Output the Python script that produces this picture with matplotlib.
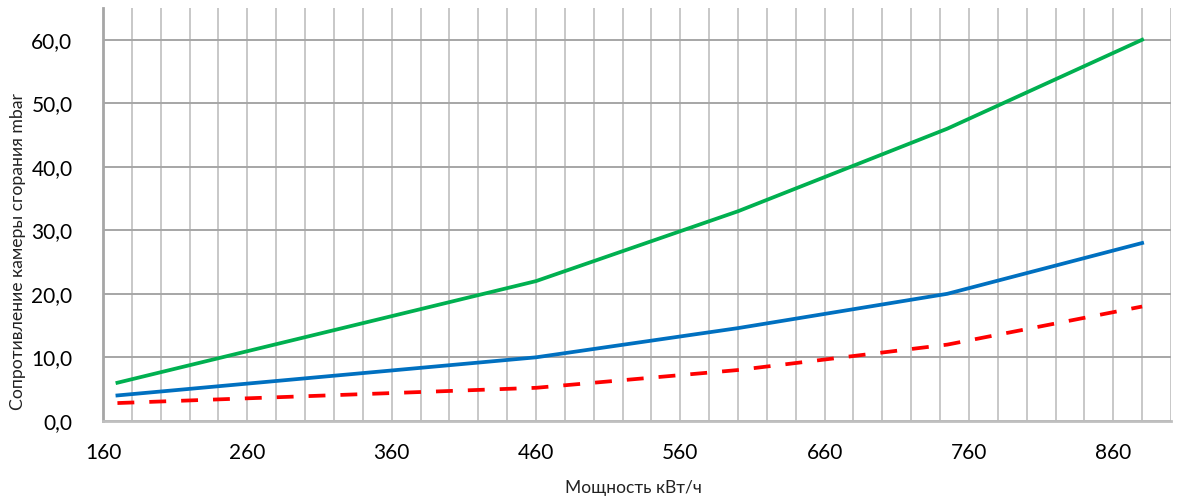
import matplotlib
matplotlib.use("Agg")
import matplotlib.pyplot as plt
from matplotlib.ticker import MultipleLocator, FuncFormatter

plt.rcParams['font.family'] = ['Lato', 'DejaVu Sans']

# power, kW
power = [170, 460, 600, 745, 880]
# combustion chamber resistance, mbar
green_vals = [6.0, 22.0, 33.0, 46.0, 60.0]
blue_vals = [4.0, 10.0, 14.6, 20.0, 28.0]
red_vals = [2.8, 5.2, 8.0, 12.0, 18.0]

x_labels = [160, 260, 360, 460, 560, 660, 760, 860]

fig = plt.figure(figsize=(11.84, 5.01), dpi=100)
ax = fig.add_axes([0.087, 0.160, 0.902, 0.824])

ax.plot(power, green_vals, color='#00b050', lw=2.7, zorder=3)
ax.plot(power, blue_vals, color='#0070c0', lw=2.7, zorder=3)
ax.plot(power, red_vals, color='#ff0000', lw=2.7, dashes=(4.5, 4), zorder=3)

ax.set_xlim(160, 900)
ax.set_ylim(0, 65)

ax.set_xticks(x_labels)
ax.xaxis.set_minor_locator(MultipleLocator(20))
ax.yaxis.set_major_locator(MultipleLocator(10))
ax.yaxis.set_major_formatter(FuncFormatter(lambda v, p: f"{v:.1f}".replace('.', ',')))

ax.grid(False)
ax.grid(which='minor', axis='x', color='#c8c8c8', lw=1.4)
ax.grid(which='major', axis='x', color='#c8c8c8', lw=1.4)
ax.grid(which='major', axis='y', color='#a6a6a6', lw=1.4)
ax.set_axisbelow(True)

ax.tick_params(axis='both', which='both', length=0, labelsize=15, colors='#000000')
ax.tick_params(axis='x', pad=16)
ax.tick_params(axis='y', pad=22)

for s in ['top', 'right']:
    ax.spines[s].set_visible(False)
ax.spines['left'].set_color('#a6a6a6')
ax.spines['left'].set_linewidth(2)
ax.spines['bottom'].set_color('#bfbfbf')
ax.spines['bottom'].set_linewidth(2)

fig.text(633 / 1184, 1 - 488 / 501, 'Мощность кВт/ч', fontsize=12.5,
         color='#222222', ha='center', va='center')
fig.text(18 / 1184, 1 - 251 / 501, 'Сопротивление камеры сгорания mbar',
         fontsize=12.7, color='#222222', ha='center', va='center', rotation=90)

fig.savefig('out.png', dpi=100)
